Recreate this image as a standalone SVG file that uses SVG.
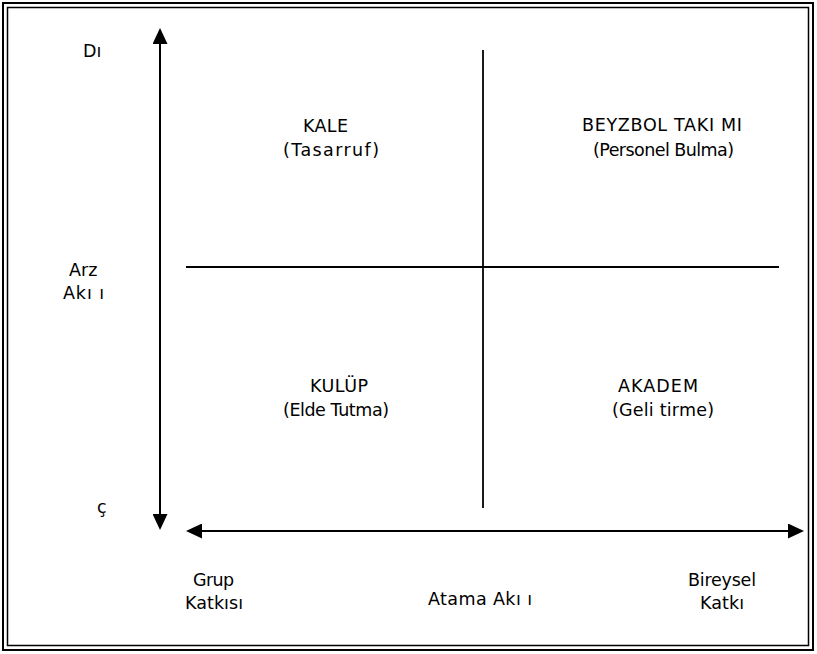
<svg xmlns="http://www.w3.org/2000/svg" width="817" height="654" viewBox="0 0 817 654">
<style>
.t{font-family:"DejaVu Sans","Verdana",sans-serif;font-size:17.5px;fill:#000}
.ax{stroke:#000;stroke-width:2;fill:none}
.mid{stroke:#000;stroke-width:1.8;fill:none}
.frame{fill:none;stroke:#000}
</style>
<defs>
<marker id="ah" markerUnits="userSpaceOnUse" markerWidth="16" markerHeight="15" refX="0" refY="7.5" orient="auto-start-reverse" viewBox="0 0 16 15">
<path d="M0,0 L16,7.5 L0,15 z" fill="#000"/>
</marker>
</defs>
<rect width="817" height="654" fill="#fff"/>
<g id="frame">
<rect class="frame" x="3" y="3" width="810" height="647" stroke-width="2"/>
<rect class="frame" x="7.5" y="7.5" width="801" height="638" stroke-width="1.5"/>
</g>
<g id="connectors">
<line class="ax" x1="160" y1="44" x2="160" y2="514" marker-start="url(#ah)" marker-end="url(#ah)"/>
<line class="ax" x1="202" y1="531" x2="788" y2="531" marker-start="url(#ah)" marker-end="url(#ah)"/>
<line class="mid" x1="483" y1="50" x2="483" y2="508"/>
<line class="mid" x1="186" y1="267" x2="779" y2="267"/>
</g>
<g id="axis-labels">
<text class="t" x="83" y="57">Dı</text>
<text class="t" x="69" y="276">Arz</text>
<text class="t" x="63" y="299" textLength="41" lengthAdjust="spacing">Akı ı</text>
<text class="t" x="97" y="513">ç</text>
<text class="t" x="193" y="586" textLength="41" lengthAdjust="spacing">Grup</text>
<text class="t" x="185" y="609" textLength="58" lengthAdjust="spacing">Katkısı</text>
<text class="t" x="428" y="605" textLength="104" lengthAdjust="spacing">Atama Akı ı</text>
<text class="t" x="688" y="586" textLength="68" lengthAdjust="spacing">Bireysel</text>
<text class="t" x="700" y="609" textLength="44" lengthAdjust="spacing">Katkı</text>
</g>
<g id="kale">
<text class="t" x="303" y="132" textLength="45" lengthAdjust="spacing">KALE</text>
<text class="t" x="283" y="156" textLength="96" lengthAdjust="spacing">(Tasarruf)</text>
</g>
<g id="beyzbol">
<text class="t" x="582" y="131" textLength="160" lengthAdjust="spacing">BEYZBOL TAKI MI</text>
<text class="t" x="593" y="156" textLength="141" lengthAdjust="spacing">(Personel Bulma)</text>
</g>
<g id="kulup">
<text class="t" x="310" y="392" textLength="58" lengthAdjust="spacing">KULÜP</text>
<text class="t" x="283" y="416" textLength="106" lengthAdjust="spacing">(Elde Tutma)</text>
</g>
<g id="akadem">
<text class="t" x="618" y="392" textLength="80" lengthAdjust="spacing">AKADEM</text>
<text class="t" x="612" y="416" textLength="102" lengthAdjust="spacing">(Geli tirme)</text>
</g>
</svg>
